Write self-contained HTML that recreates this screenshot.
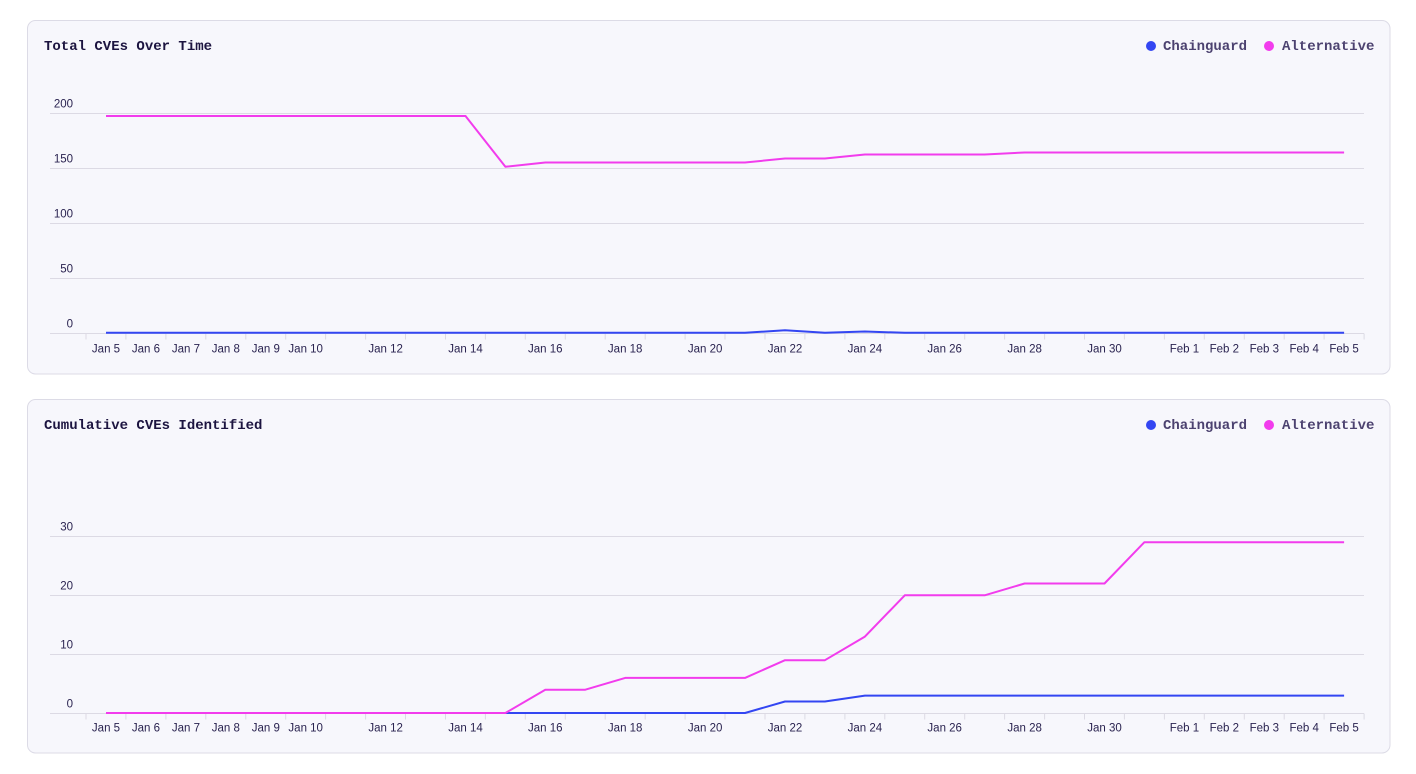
<!DOCTYPE html>
<html>
<head>
<meta charset="utf-8">
<style>
  html, body { margin:0; padding:0; background:#ffffff; }
  body { width:1416px; height:774px; overflow:hidden; }
  svg { display:block; }
  .title { font-family:"Liberation Mono", monospace; font-weight:bold; font-size:14px; fill:#1c1440; }
  .leg { font-family:"Liberation Mono", monospace; font-weight:bold; font-size:14px; fill:#4c4270; }
  .yl { font-family:"Liberation Sans", sans-serif; font-size:11.5px; fill:#2a2350; text-anchor:end; }
  .xl { font-family:"Liberation Sans", sans-serif; font-size:11.5px; fill:#2a2350; text-anchor:middle; }
  .grid { stroke:#dcdae4; stroke-width:1; fill:none; }
  .tick { stroke:#dcdae4; stroke-width:1; fill:none; }
  .blue { stroke:#3346f2; stroke-width:2; fill:none; stroke-linejoin:round; }
  .pink { stroke:#f23ced; stroke-width:2; fill:none; stroke-linejoin:round; }
</style>
</head>
<body>
<svg width="1416" height="774" viewBox="0 0 1416 774" xmlns="http://www.w3.org/2000/svg">
  <!-- ================= CARD 1 ================= -->
  <rect x="27.5" y="20.5" width="1362.5" height="353.5" rx="8" ry="8" fill="#f7f7fc" stroke="#dcdbe6"/>
  <text class="title" x="44" y="49.8">Total CVEs Over Time</text>
  <circle cx="1151" cy="46" r="5" fill="#3346f2"/>
  <text class="leg" x="1163" y="49.8">Chainguard</text>
  <circle cx="1269" cy="46" r="5" fill="#f23ced"/>
  <text class="leg" x="1282" y="49.8">Alternative</text>

  <g>
    <path class="grid" d="M50 113.5H1364M50 168.5H1364M50 223.5H1364M50 278.5H1364M50 333.5H1364"/>
    <text class="yl" x="73" y="107.5">200</text>
    <text class="yl" x="73" y="162.5">150</text>
    <text class="yl" x="73" y="217.5">100</text>
    <text class="yl" x="73" y="272.5">50</text>
    <text class="yl" x="73" y="327.5">0</text>
    <path class="tick" d="M86 333.5V339.5M125.9 333.5V339.5M165.9 333.5V339.5M205.8 333.5V339.5M245.8 333.5V339.5M285.7 333.5V339.5M325.6 333.5V339.5M365.6 333.5V339.5M405.5 333.5V339.5M445.5 333.5V339.5M485.4 333.5V339.5M525.3 333.5V339.5M565.3 333.5V339.5M605.2 333.5V339.5M645.2 333.5V339.5M685.1 333.5V339.5M725 333.5V339.5M765 333.5V339.5M804.9 333.5V339.5M844.9 333.5V339.5M884.8 333.5V339.5M924.7 333.5V339.5M964.7 333.5V339.5M1004.6 333.5V339.5M1044.6 333.5V339.5M1084.5 333.5V339.5M1124.4 333.5V339.5M1164.4 333.5V339.5M1204.3 333.5V339.5M1244.3 333.5V339.5M1284.2 333.5V339.5M1324.1 333.5V339.5M1364.1 333.5V339.5"/>
    <text class="xl" x="106" y="352.5">Jan 5</text>
    <text class="xl" x="145.9" y="352.5">Jan 6</text>
    <text class="xl" x="185.9" y="352.5">Jan 7</text>
    <text class="xl" x="225.8" y="352.5">Jan 8</text>
    <text class="xl" x="265.8" y="352.5">Jan 9</text>
    <text class="xl" x="305.7" y="352.5">Jan 10</text>
    <text class="xl" x="385.6" y="352.5">Jan 12</text>
    <text class="xl" x="465.5" y="352.5">Jan 14</text>
    <text class="xl" x="545.3" y="352.5">Jan 16</text>
    <text class="xl" x="625.2" y="352.5">Jan 18</text>
    <text class="xl" x="705.1" y="352.5">Jan 20</text>
    <text class="xl" x="785" y="352.5">Jan 22</text>
    <text class="xl" x="864.9" y="352.5">Jan 24</text>
    <text class="xl" x="944.7" y="352.5">Jan 26</text>
    <text class="xl" x="1024.6" y="352.5">Jan 28</text>
    <text class="xl" x="1104.5" y="352.5">Jan 30</text>
    <text class="xl" x="1184.4" y="352.5">Feb 1</text>
    <text class="xl" x="1224.3" y="352.5">Feb 2</text>
    <text class="xl" x="1264.3" y="352.5">Feb 3</text>
    <text class="xl" x="1304.2" y="352.5">Feb 4</text>
    <text class="xl" x="1344.1" y="352.5">Feb 5</text>

    <polyline class="blue" points="106,332.8 745,332.8 785,330.2 824.9,332.8 864.9,331.5 904.8,332.8 1344.1,332.8"/>
    <polyline class="pink" points="106,116 465.5,116 505.4,166.8 545.3,162.5 745,162.5 785,158.5 824.9,158.5 864.9,154.5 984.7,154.5 1024.6,152.5 1344.1,152.5"/>
  </g>

  <!-- ================= CARD 2 ================= -->
  <rect x="27.5" y="399.5" width="1362.5" height="353.5" rx="8" ry="8" fill="#f7f7fc" stroke="#dcdbe6"/>
  <text class="title" x="44" y="428.8">Cumulative CVEs Identified</text>
  <circle cx="1151" cy="425" r="5" fill="#3346f2"/>
  <text class="leg" x="1163" y="428.8">Chainguard</text>
  <circle cx="1269" cy="425" r="5" fill="#f23ced"/>
  <text class="leg" x="1282" y="428.8">Alternative</text>

  <g>
    <path class="grid" d="M50 536.5H1364M50 595.5H1364M50 654.5H1364M50 713.5H1364"/>
    <text class="yl" x="73" y="530.5">30</text>
    <text class="yl" x="73" y="589.5">20</text>
    <text class="yl" x="73" y="648.5">10</text>
    <text class="yl" x="73" y="707.5">0</text>
    <path class="tick" d="M86 713.5V719.5M125.9 713.5V719.5M165.9 713.5V719.5M205.8 713.5V719.5M245.8 713.5V719.5M285.7 713.5V719.5M325.6 713.5V719.5M365.6 713.5V719.5M405.5 713.5V719.5M445.5 713.5V719.5M485.4 713.5V719.5M525.3 713.5V719.5M565.3 713.5V719.5M605.2 713.5V719.5M645.2 713.5V719.5M685.1 713.5V719.5M725 713.5V719.5M765 713.5V719.5M804.9 713.5V719.5M844.9 713.5V719.5M884.8 713.5V719.5M924.7 713.5V719.5M964.7 713.5V719.5M1004.6 713.5V719.5M1044.6 713.5V719.5M1084.5 713.5V719.5M1124.4 713.5V719.5M1164.4 713.5V719.5M1204.3 713.5V719.5M1244.3 713.5V719.5M1284.2 713.5V719.5M1324.1 713.5V719.5M1364.1 713.5V719.5"/>
    <text class="xl" x="106" y="731.5">Jan 5</text>
    <text class="xl" x="145.9" y="731.5">Jan 6</text>
    <text class="xl" x="185.9" y="731.5">Jan 7</text>
    <text class="xl" x="225.8" y="731.5">Jan 8</text>
    <text class="xl" x="265.8" y="731.5">Jan 9</text>
    <text class="xl" x="305.7" y="731.5">Jan 10</text>
    <text class="xl" x="385.6" y="731.5">Jan 12</text>
    <text class="xl" x="465.5" y="731.5">Jan 14</text>
    <text class="xl" x="545.3" y="731.5">Jan 16</text>
    <text class="xl" x="625.2" y="731.5">Jan 18</text>
    <text class="xl" x="705.1" y="731.5">Jan 20</text>
    <text class="xl" x="785" y="731.5">Jan 22</text>
    <text class="xl" x="864.9" y="731.5">Jan 24</text>
    <text class="xl" x="944.7" y="731.5">Jan 26</text>
    <text class="xl" x="1024.6" y="731.5">Jan 28</text>
    <text class="xl" x="1104.5" y="731.5">Jan 30</text>
    <text class="xl" x="1184.4" y="731.5">Feb 1</text>
    <text class="xl" x="1224.3" y="731.5">Feb 2</text>
    <text class="xl" x="1264.3" y="731.5">Feb 3</text>
    <text class="xl" x="1304.2" y="731.5">Feb 4</text>
    <text class="xl" x="1344.1" y="731.5">Feb 5</text>

    <polyline class="blue" points="106,713 745,713 785,701.5 824.9,701.5 864.9,695.6 1344.1,695.6"/>
    <polyline class="pink" points="106,713 505.4,713 545.3,689.7 585.3,689.7 625.2,677.9 745,677.9 785,660.2 824.9,660.2 864.9,636.6 904.8,595.3 984.7,595.3 1024.6,583.5 1104.5,583.5 1144.4,542.2 1344.1,542.2"/>
  </g>
</svg>
</body>
</html>
